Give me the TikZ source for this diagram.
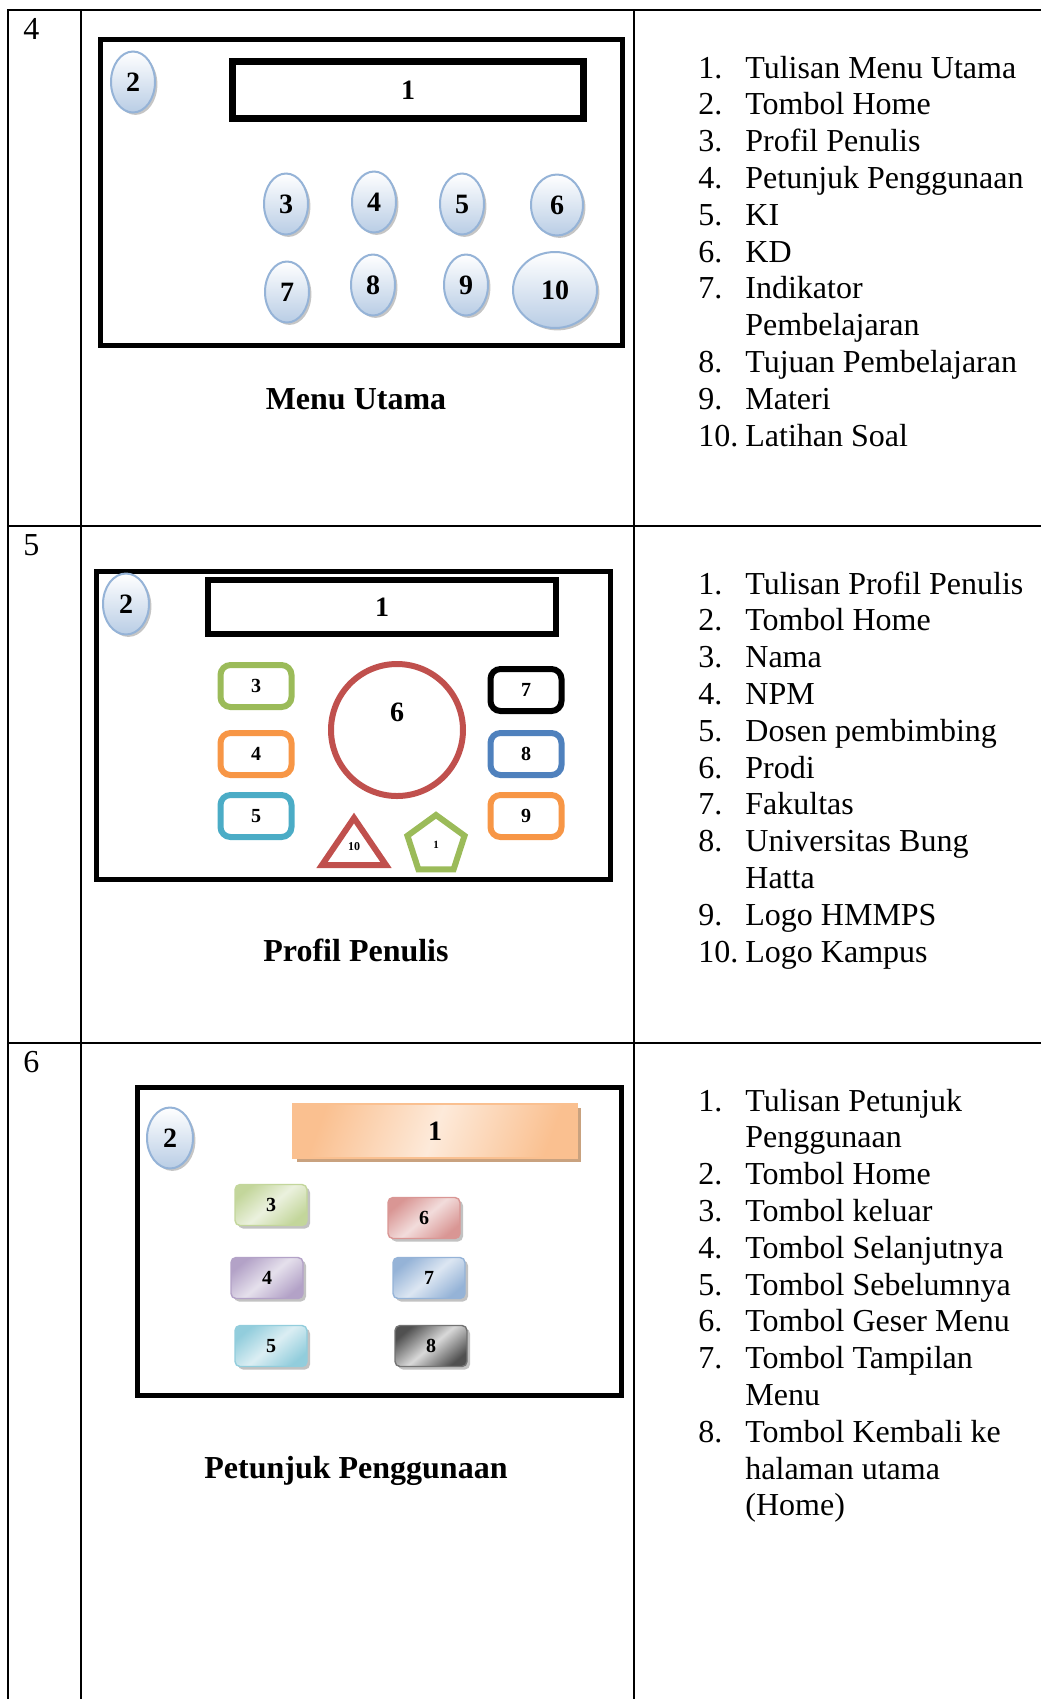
\documentclass[tikz,border=0pt]{standalone}
\usepackage{fontspec}
\setmainfont{Liberation Serif}
\usepackage{tikz}
\usetikzlibrary{shapes.geometric,shadows}
\definecolor{tepibiru}{HTML}{95B3D7}
\definecolor{isibiru}{HTML}{B9CDE5}
\definecolor{hijau}{HTML}{9BBB59}
\definecolor{oranye}{HTML}{F79646}
\definecolor{tosca}{HTML}{4BACC6}
\definecolor{biru}{HTML}{4F81BD}
\definecolor{merah}{HTML}{C0504D}
\definecolor{jingga}{HTML}{FAC090}
\definecolor{jinggamuda}{HTML}{FDEADA}
\definecolor{bayang}{HTML}{C9A27F}
\definecolor{hijaua}{HTML}{C3D69B}
\definecolor{hijaub}{HTML}{EBF1DE}
\definecolor{unguA}{HTML}{B3A2C7}
\definecolor{unguB}{HTML}{E5E0EC}
\definecolor{toscaA}{HTML}{92CDDC}
\definecolor{toscaB}{HTML}{DBEEF3}
\definecolor{merahA}{HTML}{D99694}
\definecolor{merahB}{HTML}{F2DCDB}
\definecolor{biruA}{HTML}{95B3D7}
\definecolor{biruB}{HTML}{DCE6F2}
\definecolor{abuA}{HTML}{505050}
\definecolor{abuB}{HTML}{D9D9D9}

\begin{document}
\begin{tikzpicture}[x=0.5pt,y=-0.5pt,
  garis/.style={line width=1pt},
  layar/.style={draw,line width=2.5pt},
  judul/.style={draw,line width=3.5pt,inner sep=0pt,font=\fontsize{14}{16}\selectfont\bfseries},
  tombol/.style={ellipse,draw=tepibiru,line width=1pt,top color=white,bottom color=isibiru,
    drop shadow={shadow xshift=1.2pt,shadow yshift=-1.2pt,fill=black!45,opacity=.5},
    minimum width=22pt,minimum height=30.5pt,inner sep=0pt,font=\fontsize{14}{16}\selectfont\bfseries},
  bingkai/.style={draw=#1,line width=3pt,rounded corners=5pt,fill=white,minimum width=35.5pt,
    minimum height=21pt,inner sep=0pt,font=\fontsize{10}{12}\selectfont\bfseries},
  kotak/.style 2 args={draw=#1,line width=.7pt,rounded corners=2.5pt,top color=#1,bottom color=#1,
    middle color=#2,shading angle=40,drop shadow={shadow xshift=1.5pt,shadow yshift=-1.5pt,fill=black!40,opacity=.6},
    minimum width=36pt,minimum height=20.5pt,inner sep=0pt,font=\fontsize{10}{12}\selectfont\bfseries},
  nomor/.style={anchor=base west,inner sep=0pt,font=\fontsize{16}{18}\selectfont},
  daftar/.style={anchor=base west,inner sep=0pt,font=\fontsize{16}{18}\selectfont},
  nama/.style={anchor=base,inner sep=0pt,font=\fontsize{16}{18}\selectfont\bfseries}]
\useasboundingbox (0,0) rectangle (1041,1699);

\draw[garis] (8,10) -- (1041,10);
\draw[garis] (8,526) -- (1041,526);
\draw[garis] (8,1043) -- (1041,1043);
\draw[garis] (8,9) -- (8,1699);
\draw[garis] (81,9) -- (81,1699);
\draw[garis] (634,9) -- (634,1699);

\node[nomor] (r4) at (23,39) {4};
\node[nomor] (r5) at (23,555) {5};
\node[nomor] (r6) at (23,1072) {6};

\draw[layar] (100.5,39.5) rectangle (622.5,345.5);
\node[judul,minimum width=175.5pt,minimum height=28.5pt] (m1) at (408,90) {1};
\node[tombol] (m2) at (133,82) {2};
\foreach \n/\x/\y in {3/286/204,4/374/202,5/462/204,7/287/292,8/373/285,9/466/285}
  \node[tombol] (m\n) at (\x,\y) {\n};
\node[tombol,minimum width=26pt] (m6) at (557,205) {6};
\node[tombol,minimum width=42pt,minimum height=38pt] (m10) at (555,290) {10};
\node[nama] (t4) at (356,409) {Menu Utama};

\foreach \n/\t [count=\i from 0] in {1./Tulisan Menu Utama,2./Tombol Home,3./Profil Penulis,
  4./Petunjuk Penggunaan,5./KI,6./KD,7./Indikator,/Pembelajaran,8./Tujuan Pembelajaran,
  9./Materi,10./Latihan Soal}{
  \node[daftar] (a\i) at (698,78+36.8*\i) {\n};
  \node[daftar] (b\i) at (745,78+36.8*\i) {\t};
}

\draw[layar] (96,571) rectangle (610,879);
\node[judul,line width=3pt,minimum width=174pt,minimum height=27pt] (p1) at (382,607) {1};
\node[tombol,minimum width=23pt] (p2) at (126,604) {2};
\foreach \n/\x/\y/\c in {3/256/686/hijau,4/256/754/oranye,5/256/816/tosca,
  7/526/690/black,8/526/754/biru,9/526/816/oranye}
  \node[bingkai=\c] (p\n) at (\x,\y) {\n};
\node[circle,draw=merah,line width=3pt,minimum size=66pt,inner sep=0pt] (p6) at (397,730) {};
\node[font=\fontsize{14}{16}\selectfont\bfseries,inner sep=0pt] (p6t) at (397,712) {6};
\draw[merah,line width=3pt] (354,818) -- (386,865) -- (322,865) -- cycle;
\node[font=\fontsize{6}{7}\selectfont\bfseries,inner sep=0pt] (p10) at (354,847) {10};
\node[regular polygon,regular polygon sides=5,draw=hijau,line width=3pt,minimum size=30pt,
  inner sep=0pt,font=\fontsize{5.5}{6}\selectfont\bfseries] (p11) at (436,845) {1};
\node[nama] (t5) at (356,961) {Profil Penulis};

\foreach \n/\t [count=\i from 0] in {1./Tulisan Profil Penulis,2./Tombol Home,3./Nama,4./NPM,
  5./Dosen pembimbing,6./Prodi,7./Fakultas,8./Universitas Bung,/Hatta,9./Logo HMMPS,10./Logo Kampus}{
  \node[daftar] (c\i) at (698,594+36.8*\i) {\n};
  \node[daftar] (d\i) at (745,594+36.8*\i) {\t};
}

\draw[layar] (137,1087) rectangle (621,1395);
\node[draw=jingga,line width=1pt,top color=jingga,bottom color=jingga,middle color=jinggamuda,
  shading angle=70,drop shadow={shadow xshift=2pt,shadow yshift=-2pt,fill=bayang,opacity=1},
  minimum width=142pt,minimum height=27pt,inner sep=0pt,font=\fontsize{14}{16}\selectfont\bfseries]
  (g1) at (435,1131) {1};
\node[tombol,minimum width=23pt] (g2) at (170,1138) {2};
\node[kotak={hijaua}{hijaub}] (g3) at (271,1205) {3};
\node[kotak={unguA}{unguB}] (g4) at (267,1278) {4};
\node[kotak={toscaA}{toscaB}] (g5) at (271,1346) {5};
\node[kotak={merahA}{merahB}] (g6) at (424,1218) {6};
\node[kotak={biruA}{biruB}] (g7) at (429,1278) {7};
\node[kotak={abuA}{abuB},draw=abuA!80] (g8) at (431,1346) {8};
\node[nama] (t6) at (356,1478) {Petunjuk Penggunaan};

\foreach \n/\t [count=\i from 0] in {1./Tulisan Petunjuk,/Penggunaan,2./Tombol Home,3./Tombol keluar,
  4./Tombol Selanjutnya,5./Tombol Sebelumnya,6./Tombol Geser Menu,7./Tombol Tampilan,/Menu,
  8./Tombol Kembali ke,/halaman utama,/(Home)}{
  \node[daftar] (e\i) at (698,1111+36.8*\i) {\n};
  \node[daftar] (f\i) at (745,1111+36.8*\i) {\t};
}
\end{tikzpicture}
\end{document}
